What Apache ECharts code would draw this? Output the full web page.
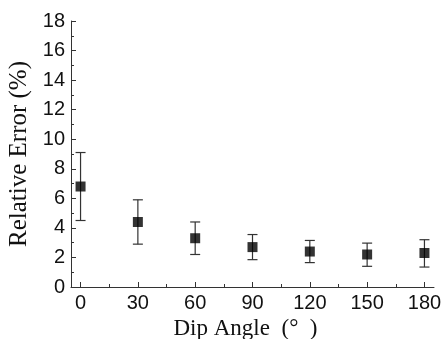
<!DOCTYPE html>
<html>
<head>
<meta charset="utf-8">
<script src="https://cdn.jsdelivr.net/npm/echarts@6/dist/echarts.min.js"></script>
<style>
html, body { margin: 0; padding: 0; background: #fff; }
#chart { width: 443px; height: 339px; }
</style>
</head>
<body>
<div id="chart"></div>
<script>
const angles = [0, 30, 60, 90, 120, 150, 180];
const meanErr = [6.8, 4.4, 3.3, 2.7, 2.4, 2.2, 2.3];
const lowErr = [4.5, 2.9, 2.2, 1.85, 1.65, 1.4, 1.35];
const highErr = [9.1, 5.9, 4.4, 3.55, 3.15, 2.97, 3.2];
const xTicks = [0, 30, 60, 90, 120, 150, 180];
const xMinorTicks = [15, 45, 75, 105, 135, 165];

const chart = echarts.init(document.getElementById('chart'));

const axisColor = '#333';
const tickFont = { fontFamily: 'Liberation Sans', fontSize: 20, color: '#111' };

const option = {
    animation: false,
    grid: { left: 71, top: 21, right: 9, bottom: 52, outerBoundsMode: 'none' },
    xAxis: [
        {
            type: 'value',
            min: -5,
            max: 185,
            name: 'Dip Angle  (°  )',
            nameLocation: 'middle',
            nameGap: 27,
            nameTextStyle: { fontFamily: 'Liberation Serif', fontSize: 23, color: '#111', padding: [0, 14, 0, 0] },
            axisLine: { show: true, onZero: false, lineStyle: { color: axisColor, width: 1 } },
            axisTick: { show: true, inside: true, length: 5, customValues: xTicks, lineStyle: { color: axisColor } },
            axisLabel: Object.assign({ customValues: xTicks, margin: 6 }, tickFont),
            splitLine: { show: false }
        },
        {
            // minor ticks on the x axis, drawn by a second, unlabelled axis
            type: 'value',
            min: -5,
            max: 185,
            position: 'bottom',
            axisLine: { show: false, onZero: false },
            axisTick: { show: true, inside: true, length: 3, customValues: xMinorTicks, lineStyle: { color: axisColor } },
            axisLabel: { show: false },
            splitLine: { show: false }
        }
    ],
    yAxis: {
        type: 'value',
        min: 0,
        max: 18,
        interval: 2,
        name: 'Relative Error (%)',
        nameLocation: 'middle',
        nameGap: 34,
        nameRotate: 90,
        nameTextStyle: { fontFamily: 'Liberation Serif', fontSize: 25, color: '#111' },
        axisLine: { show: true, onZero: false, lineStyle: { color: axisColor, width: 1 } },
        axisTick: { show: true, inside: true, length: 5, lineStyle: { color: axisColor } },
        minorTick: { show: true, splitNumber: 2, length: 3, lineStyle: { color: axisColor } },
        axisLabel: Object.assign({ margin: 6 }, tickFont),
        splitLine: { show: false }
    },
    series: [
        {
            // error bars with caps
            type: 'custom',
            data: angles.map((a, i) => [a, lowErr[i], highErr[i]]),
            renderItem: function (params, api) {
                const x = api.value(0);
                const lo = api.coord([x, api.value(1)]);
                const hi = api.coord([x, api.value(2)]);
                const half = 5;
                const style = { stroke: '#333', lineWidth: 1.2 };
                return {
                    type: 'group',
                    children: [
                        { type: 'line', shape: { x1: lo[0], y1: lo[1], x2: hi[0], y2: hi[1] }, style: style },
                        { type: 'line', shape: { x1: lo[0] - half, y1: lo[1], x2: lo[0] + half, y2: lo[1] }, style: style },
                        { type: 'line', shape: { x1: hi[0] - half, y1: hi[1], x2: hi[0] + half, y2: hi[1] }, style: style }
                    ]
                };
            },
            z: 2
        },
        {
            type: 'scatter',
            data: angles.map((a, i) => [a, meanErr[i]]),
            symbol: 'rect',
            symbolSize: 10,
            itemStyle: { color: '#000' },
            z: 3
        }
    ]
};

chart.setOption(option);
</script>
</body>
</html>
